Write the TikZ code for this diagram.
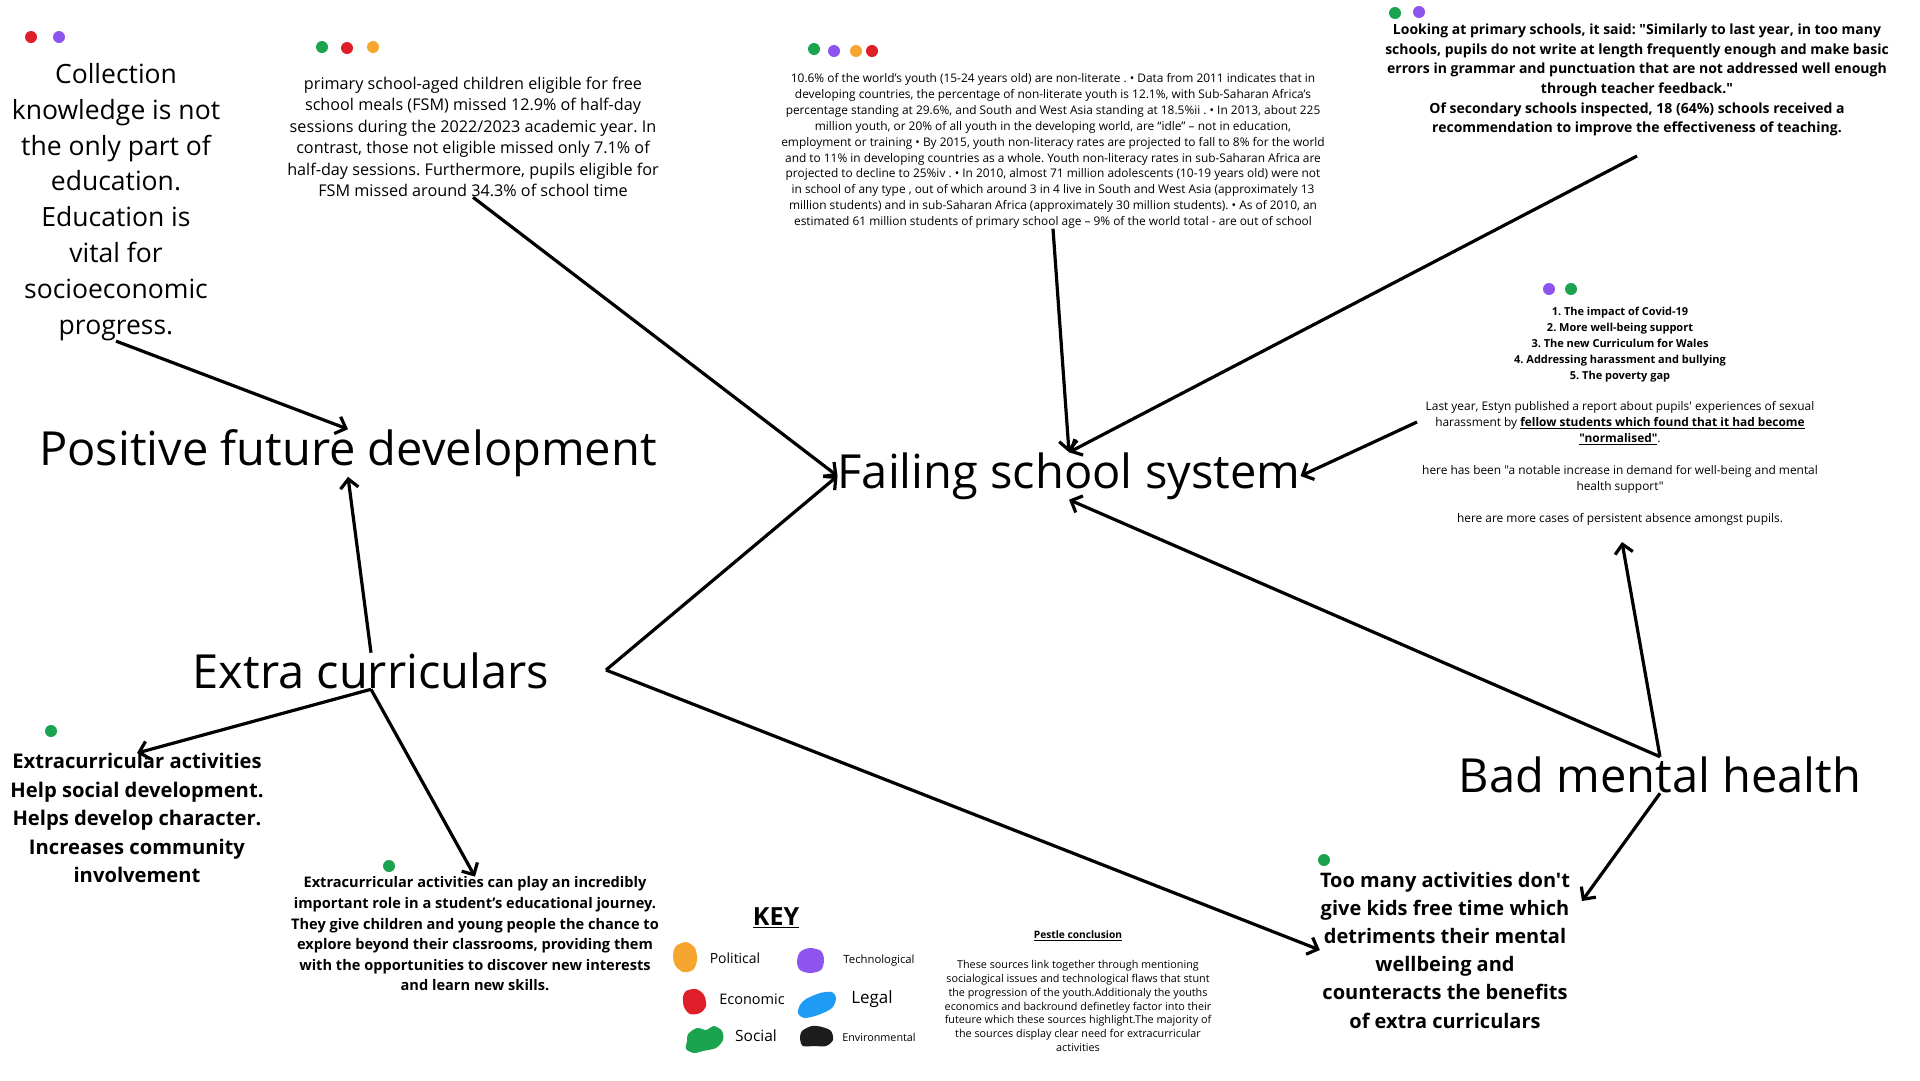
\documentclass[tikz,border=0pt]{standalone}
\usepackage{fontspec}
\setmainfont{Open Sans}[Ligatures=TeXOff]
\usetikzlibrary{arrows.meta,calc}
\newcommand\setfs[2]{\fontsize{#1}{#2}\selectfont}
\definecolor{cgreen}{RGB}{27,163,80}
\definecolor{cred}{RGB}{222,30,40}
\definecolor{cpurple}{RGB}{142,84,240}
\definecolor{corange}{RGB}{246,166,46}
\definecolor{cblue}{RGB}{30,156,245}
\definecolor{cblack}{RGB}{28,28,28}
\frenchspacing
\begin{document}
\begin{tikzpicture}[x=1pt,y=-1pt,
  txt/.style={align=center,inner sep=0pt,text=black},
  h1/.style={inner sep=0pt,font=\setfs{47}{54},text=black},
  arr/.style={line width=3.2pt,-{Straight Barb[length=9pt,width=18pt]},black}]
\useasboundingbox[fill=white] (0,0) rectangle (1920,1080);

% ---------- coloured dots ----------
\fill[cred] (31,37) circle (6pt);  \fill[cpurple] (59,37) circle (6pt);
\fill[cgreen] (322,47) circle (6pt); \fill[cred] (347,48) circle (6pt); \fill[corange] (373,47) circle (6pt);
\fill[cgreen] (814,49) circle (6pt); \fill[cpurple] (834,51) circle (6pt); \fill[corange] (856,51) circle (6pt); \fill[cred] (872,51) circle (6pt);
\fill[cgreen] (1395,13) circle (6pt); \fill[cpurple] (1419,12) circle (6pt);
\fill[cpurple] (1549,289) circle (6pt); \fill[cgreen] (1571,289) circle (6pt);
\fill[cgreen] (51,731) circle (6pt);
\fill[cgreen] (389,866) circle (6pt);
\fill[cgreen] (1324,860) circle (6pt);

% ---------- main headings ----------
\node[h1] (pfd) at (348,453) {Positive future development};
\node[h1] (fss) at (1069,476) {Failing school system};
\node[h1] (ec)  at (371,671) {Extra curriculars};
\node[h1] (bmh) at (1660,775) {Bad mental health};

% ---------- text blocks ----------
\node[txt,font=\setfs{26.5}{35.9}] (coll) at (116,202)
 {Collection\\knowledge is not\\the only part of\\education.\\Education is\\vital for\\socioeconomic\\progress.};

\node[txt,font=\setfs{16.2}{21.5}] (fsm) at (473,137)
 {primary school-aged children eligible for free\\
  school meals (FSM) missed 12.9\% of half-day\\
  sessions during the 2022/2023 academic year. In\\
  contrast, those not eligible missed only 7.1\% of\\
  half-day sessions. Furthermore, pupils eligible for\\
  FSM missed around 34.3\% of school time};

\node[txt,font=\setfs{11.9}{15.9}] (mid) at (1053,151)
 {10.6\% of the world’s youth (15-24 years old) are non-literate . • Data from 2011 indicates that in\\
  developing countries, the percentage of non-literate youth is 12.1\%, with Sub-Saharan Africa’s\\
  percentage standing at 29.6\%, and South and West Asia standing at 18.5\%ii . • In 2013, about 225\\
  million youth, or 20\% of all youth in the developing world, are “idle” – not in education,\\
  employment or training • By 2015, youth non-literacy rates are projected to fall to 8\% for the world\\
  and to 11\% in developing countries as a whole. Youth non-literacy rates in sub-Saharan Africa are\\
  projected to decline to 25\%iv . • In 2010, almost 71 million adolescents (10-19 years old) were not\\
  in school of any type , out of which around 3 in 4 live in South and West Asia (approximately 13\\
  million students) and in sub-Saharan Africa (approximately 30 million students). • As of 2010, an\\
  estimated 61 million students of primary school age – 9\% of the world total - are out of school};

\node[txt,font=\bfseries\setfs{14}{19.6}] (tr) at (1637,80)
 {Looking at primary schools, it said: "Similarly to last year, in too many\\
  schools, pupils do not write at length frequently enough and make basic\\
  errors in grammar and punctuation that are not addressed well enough\\
  through teacher feedback."\\
  Of secondary schools inspected, 18 (64\%) schools received a\\
  recommendation to improve the effectiveness of teaching.};

\node[txt,font=\setfs{11.9}{15.9}] (rlist) at (1620,416)
 {\fontsize{11}{15.9}\selectfont\textbf{1. The impact of Covid-19}\\
  \fontsize{11}{15.9}\selectfont\textbf{2. More well-being support}\\
  \fontsize{11}{15.9}\selectfont\textbf{3. The new Curriculum for Wales}\\
  \fontsize{11}{15.9}\selectfont\textbf{4. Addressing harassment and bullying}\\
  \fontsize{11}{15.9}\selectfont\textbf{5. The poverty gap}\\[15.9pt]
  Last year, Estyn published a report about pupils' experiences of sexual\\
  harassment by \underline{\textbf{fellow students which found that it had become}}\\
  \underline{\textbf{"normalised"}}.\\[15.9pt]
  here has been "a notable increase in demand for well-being and mental\\
  health support"\\[15.9pt]
  here are more cases of persistent absence amongst pupils.};

\node[txt,font=\bfseries\setfs{20.2}{28.5}] (bl) at (137,818)
 {Extracurricular activities\\Help social development.\\Helps develop character.\\Increases community\\involvement};

\node[txt,font=\bfseries\setfs{14.6}{20.6}] (bm) at (475,934)
 {Extracurricular activities can play an incredibly\\
  important role in a student’s educational journey.\\
  They give children and young people the chance to\\
  explore beyond their classrooms, providing them\\
  with the opportunities to discover new interests\\
  and learn new skills.};

\node[txt,font=\bfseries\setfs{20}{28.2}] (br) at (1445,950)
 {Too many activities don't\\give kids free time which\\detriments their mental\\wellbeing and\\counteracts the benefits\\of extra curriculars};

% ---------- pestle ----------
\node[txt,font=\bfseries\setfs{10.2}{12}] (pt) at (1078,936) {\underline{Pestle conclusion}};
\node[txt,font=\setfs{10.8}{13.8}] (pestle) at (1078,1006)
 {These sources link together through mentioning\\
  socialogical issues and technological flaws that stunt\\
  the progression of the youth.Additionaly the youths\\
  economics and backround definetley factor into their\\
  futeure which these sources highlight.The majority of\\
  the sources display clear need for extracurricular\\
  activities};

% ---------- key ----------
\node[txt,font=\bfseries\setfs{25}{30}] (key) at (776,918) {\underline{KEY}};
\fill[corange] plot[smooth cycle] coordinates {(676,946) (686,942) (695,948) (697,960) (693,970) (683,972) (675,965) (673,954)};
\fill[cpurple] plot[smooth cycle] coordinates {(800,952) (810,948) (821,951) (824,960) (821,970) (810,973) (800,970) (797,962)};
\fill[cred] plot[smooth cycle] coordinates {(686,991) (696,989) (704,995) (706,1006) (700,1013) (690,1014) (684,1007) (683,997)};
\fill[cblue] plot[smooth cycle] coordinates {(806,999) (820,993) (832,992) (836,998) (832,1008) (818,1015) (804,1018) (798,1013) (800,1005)};
\fill[cgreen] plot[smooth cycle] coordinates {(688,1034) (697,1028) (706,1030) (714,1026) (722,1031) (723,1040) (716,1048) (703,1051) (694,1053) (686,1049) (687,1041)};
\fill[cblack] plot[smooth cycle] coordinates {(802,1031) (812,1026) (822,1027) (831,1031) (833,1040) (826,1046) (814,1046) (803,1046) (800,1039)};
\node[txt,font=\setfs{14}{16}] (kpol) at (735,958) {Political};
\node[txt,font=\setfs{11.3}{13}] (ktech) at (879,961) {Technological};
\node[txt,font=\setfs{14.5}{16}] (keco) at (752,999) {Economic};
\node[txt,font=\setfs{17}{19}] (kleg) at (872,999) {Legal};
\node[txt,font=\setfs{15.5}{18}] (ksoc) at (756,1036) {Social};
\node[txt,font=\setfs{10.8}{12}] (kenv) at (879,1037) {Environmental};

% ---------- connector end points ----------
\coordinate (trout) at (1637,156);
\coordinate (rlin) at (1417,422);
\coordinate (rlbot) at (1622,542);
\coordinate (brin) at (1582,901);
\coordinate (ecr) at (606,670);

% ---------- connectors ----------
\draw[arr] (coll.south) -- (pfd.north);
\draw[arr] (fsm.south) -- (fss.west);
\draw[arr] (mid.south) -- (fss.north);
\draw[arr] (trout) -- (fss.north);
\draw[arr] (rlin) -- (fss.east);
\draw[arr] (bmh.north) -- (fss.south);
\draw[arr] (bmh.north) -- (rlbot);
\draw[arr] (bmh.south) -- (brin);
\draw[arr] (ec.north) -- (pfd.south);
\draw[arr] (ecr) -- (fss.west);
\draw[arr] (ecr) -- (br.west);
\draw[arr] (ec.south) -- (bl.north);
\draw[arr] (ec.south) -- (bm.north);
\end{tikzpicture}
\end{document}
